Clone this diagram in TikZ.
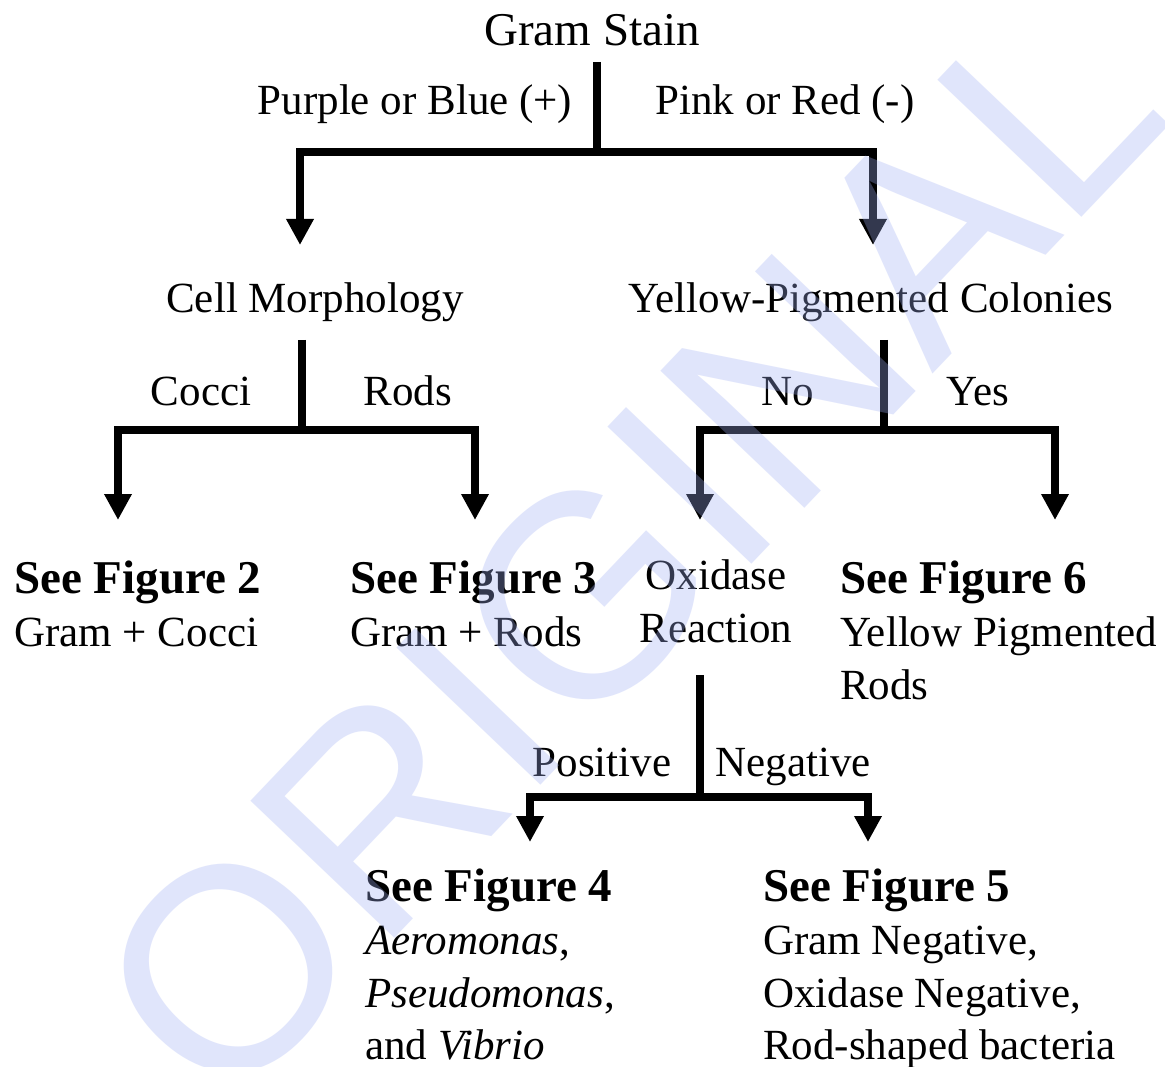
\documentclass[tikz,border=0pt]{standalone}
\usepackage{fontspec}
\setmainfont{Liberation Serif}
\newfontfamily\wmfont{Liberation Sans}
\usetikzlibrary{arrows.meta}

\definecolor{wmblue}{RGB}{160,175,245}

\begin{document}
\begin{tikzpicture}[x=1pt,y=-1pt,
  lbl/.style={inner sep=0pt,anchor=base,font=\fontsize{43}{53}\selectfont},
  lblw/.style={inner sep=0pt,anchor=base west,font=\fontsize{43}{53}\selectfont},
  head/.style={inner sep=0pt,anchor=base west,font=\fontsize{47}{53}\selectfont\bfseries},
  stemline/.style={line width=8pt,line cap=butt},
  arr/.style={line width=8pt,line cap=butt,line join=miter,
    -{Triangle[width=26pt,length=26pt]}},
  stamptext/.style={text=wmblue,text opacity=0.32,inner sep=0pt,
    font=\wmfont\fontsize{289}{289}\selectfont}
]
\useasboundingbox (0,0) rectangle (1165,1067);
\fill[white] (0,0) rectangle (1165,1067);
\clip (0,0) rectangle (1165,1067);

% ---- texts ----
\node[lbl, font=\fontsize{47}{53}\selectfont] (gs) at (592,46) {Gram Stain};
\node[lbl] (purple) at (415,115) {Purple or Blue (+)};
\node[lbl] (pink) at (785,115) {Pink or Red (-)};

\node[lbl] (cm) at (315,313) {Cell Morphology};
\node[lbl] (yp) at (871,313) {Yellow-Pigmented Colonies};

\node[lbl] (cocci) at (201,406) {Cocci};
\node[lbl] (rods) at (408,406) {Rods};
\node[lbl] (no) at (788,406) {No};
\node[lbl] (yes) at (978,406) {Yes};

\node[head] (f2) at (14,593) {See Figure 2};
\node[lblw] (f2a) at (14,646) {Gram + Cocci};
\node[head] (f3) at (350,593) {See Figure 3};
\node[lblw] (f3a) at (350,646) {Gram + Rods};

\node[lbl] (ox1) at (716,589) {Oxidase};
\node[lbl] (ox2) at (716,642) {Reaction};

\node[head] (f6) at (840,593) {See Figure 6};
\node[lblw] (f6a) at (840,646) {Yellow Pigmented};
\node[lblw] (f6b) at (840,699) {Rods};

\node[lbl] (pos) at (602,776) {Positive};
\node[lbl] (neg) at (793,776) {Negative};

\node[head] (f4) at (365,901) {See Figure 4};
\node[lblw] (f4a) at (365,954) {\itshape Aeromonas\upshape,};
\node[lblw] (f4b) at (365,1007) {\itshape Pseudomonas\upshape,};
\node[lblw] (f4c) at (365,1059) {and \itshape Vibrio};

\node[head] (f5) at (763,901) {See Figure 5};
\node[lblw] (f5a) at (763,954) {Gram Negative,};
\node[lblw] (f5b) at (763,1007) {Oxidase Negative,};
\node[lblw] (f5c) at (763,1059) {Rod-shaped bacteria};

% ---- branch points and arrow ends ----
\coordinate (gsTop) at (597,62);   \coordinate (gsJ) at (597,152);
\coordinate (cmTip) at (300,245);  \coordinate (ypTip) at (873,245);

\coordinate (cmTop) at (302,340);  \coordinate (cmJ) at (302,430);
\coordinate (f2Tip) at (118,520);  \coordinate (f3Tip) at (475,520);

\coordinate (ypTop) at (884,340);  \coordinate (ypJ) at (884,430);
\coordinate (oxTip) at (700,520);  \coordinate (f6Tip) at (1055,520);

\coordinate (oxTop) at (700,675);  \coordinate (oxJ) at (700,797);
\coordinate (f4Tip) at (530,842);  \coordinate (f5Tip) at (868,842);

% ---- connectors ----
\draw[stemline] (gsTop) -- (gsJ);
\draw[arr] (gsJ) -| (cmTip);
\draw[arr] (gsJ) -| (ypTip);

\draw[stemline] (cmTop) -- (cmJ);
\draw[arr] (cmJ) -| (f2Tip);
\draw[arr] (cmJ) -| (f3Tip);

\draw[stemline] (ypTop) -- (ypJ);
\draw[arr] (ypJ) -| (oxTip);
\draw[arr] (ypJ) -| (f6Tip);

\draw[stemline] (oxTop) -- (oxJ);
\draw[arr] (oxJ) -| (f4Tip);
\draw[arr] (oxJ) -| (f5Tip);

% ---- diagonal stamp ----
\node[stamptext, rotate=46.4] (stamp) at (628,550) {ORIGINAL};
\end{tikzpicture}
\end{document}
